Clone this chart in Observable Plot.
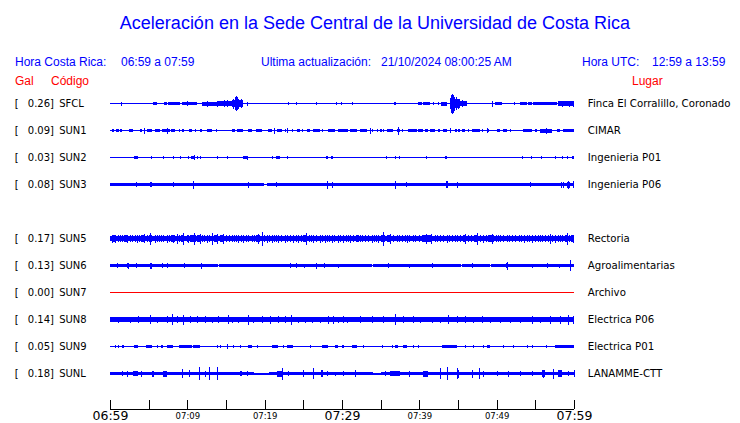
<!DOCTYPE html>
<html><head><meta charset="utf-8">
<script src="https://cdn.jsdelivr.net/npm/d3@7"></script>
<script src="https://cdn.jsdelivr.net/npm/@observablehq/plot@0.6"></script>
<style>
body{margin:0;background:#fff;}
#wrap{position:relative;width:740px;height:423px;overflow:hidden;background:#fff;}
#head{position:relative;width:740px;height:90px;font-family:"Liberation Sans",Arial,sans-serif;}
#head span{position:absolute;white-space:pre;line-height:1;}
#chart svg{display:block;}
</style></head><body>
<div id="wrap">
<div id="head">
  <span style="left:5px;width:740px;text-align:center;top:14.3px;font-size:18px;color:#0000ff">Aceleración en la Sede Central de la Universidad de Costa Rica</span>
  <span style="left:15px;top:55.8px;font-size:12px;color:#0000ff">Hora Costa Rica:</span>
  <span style="left:121px;top:55.8px;font-size:12px;color:#0000ff">06:59 a 07:59</span>
  <span style="left:261px;top:55.8px;font-size:12px;color:#0000ff">Ultima actualización:</span>
  <span style="left:381px;top:55.8px;font-size:12px;color:#0000ff">21/10/2024 08:00:25 AM</span>
  <span style="left:582px;top:55.8px;font-size:12px;color:#0000ff">Hora UTC:</span>
  <span style="left:652px;top:55.8px;font-size:12px;color:#0000ff">12:59 a 13:59</span>
  <span style="left:15px;top:74.8px;font-size:12px;color:#ff0000">Gal</span>
  <span style="left:51px;top:74.8px;font-size:12px;color:#ff0000">Código</span>
  <span style="left:632px;top:74.8px;font-size:12px;color:#ff0000">Lugar</span>
</div>
<div id="chart"></div>
</div>
<script>
// ---- station metadata ----
const codes  = ["SFCL","SUN1","SUN2","SUN3","SUN5","SUN6","SUN7","SUN8","SUN9","SUNL"];
const gal    = [0.26, 0.09, 0.03, 0.08, 0.17, 0.13, 0.00, 0.14, 0.05, 0.18];
const places = ["Finca El Corralillo, Coronado","CIMAR","Ingenieria P01","Ingenieria P06","Rectoria","Agroalimentarias","Archivo","Electrica P06","Electrica P01","LANAMME-CTT"];
const slots  = [0,1,2,3,5,6,7,8,9,10];

// ---- time axis (minutes after 06:59) ----
const tickMinutes = [0,5,10,15,20,25,30,35,40,45,50,55,60];
const labelMinutes = [0,10,20,30,40,50,60];
const labelTexts = ["06:59","07:09","07:19","07:29","07:39","07:49","07:59"];
const labelMajor = [true,false,false,true,false,false,true];

// ---- waveform envelopes: [t0, t1, halfAmplitude] and spikes [t, halfAmplitude] ----
const SFCL_base = [[0,60,0.6]];
const SFCL_blobs = [[5.60,6.04,1.6],[7.02,7.33,1.6],[7.46,9.05,1.7],[9.27,9.92,1.6],[9.92,11.21,1.7],[11.86,14.00,2.0],[14.00,15.74,2.6],[15.74,16.20,3.8],[16.20,16.70,5.0],[16.70,17.24,3.2],[36.76,36.94,1.5],[39.86,40.30,1.6],[40.51,41.38,1.6],[42.80,43.54,2.0],[43.96,44.60,5.5],[44.60,45.30,4.2],[45.30,46.12,2.8],[49.78,50.65,1.6],[53.01,53.88,1.6],[54.05,54.53,1.6],[54.66,57.76,1.8],[57.97,60.00,2.3]];
const SFCL_spikes = [[1.38,2],[10.0,2.2],[12.6,3],[13.9,3],[14.7,3.5],[15.1,3.2],[15.9,5],[16.12,6.5],[16.29,7.5],[16.45,6.5],[16.9,4.5],[17.68,2],[23.05,1.8],[24.05,1.5],[26.64,1.8],[29.22,1.8],[29.87,1.8],[31.33,1.8],[41.80,1.5],[42.45,1.5],[44.1,9],[44.22,10],[44.35,9],[44.5,7],[44.7,6.5],[45.0,5],[45.5,3.5],[49.43,3],[52.24,1.5],[58.5,3],[59.3,3],[59.9,3]];

const SUN1_base = [[0,60,0.6]];
const SUN1_blobs = [[0.22,0.56,1.7],[0.73,1.16,1.7],[1.29,1.51,1.7],[2.46,3.02,1.7],[3.88,4.09,1.7],[4.74,5.39,1.7],[5.82,6.47,1.7],[6.77,7.76,1.9],[7.84,8.40,1.7],[9.27,9.61,1.7],[10.26,10.65,1.7],[11.64,11.94,1.7],[12.50,13.15,1.7],[15.73,16.16,1.7],[16.38,17.24,1.7],[17.80,18.32,1.7],[18.83,19.61,1.7],[20.47,20.90,1.7],[21.55,22.20,1.7],[24.14,24.57,1.7],[24.78,25.00,1.7],[25.43,25.86,1.7],[26.29,27.15,1.7],[28.23,29.09,1.7],[29.52,30.82,1.7],[31.03,31.90,1.7],[32.33,33.19,1.7],[33.83,34.05,1.7],[34.91,35.13,1.7],[35.77,36.64,1.7],[37.07,37.50,1.9],[38.58,39.65,1.7],[39.87,40.52,1.7],[40.73,41.16,1.7],[41.38,42.02,1.7],[42.45,42.67,1.7],[43.10,43.53,1.7],[44.61,44.83,1.7],[45.04,45.26,1.7],[45.47,45.90,1.7],[46.76,47.84,1.7],[48.06,48.27,1.7],[50.00,50.43,1.7],[50.86,51.29,1.7],[53.45,54.52,1.7],[54.95,55.17,1.7],[55.60,57.11,2.0],[57.76,58.19,1.7],[58.62,60.00,1.7]];
const SUN1_spikes = [[4.35,3],[7.33,3],[8.92,1.8],[10.99,1.8],[13.71,1.8],[21.25,3],[22.63,1.8],[22.84,2.5],[23.49,1.8],[27.37,1.8],[33.62,3],[34.48,1.8],[35.34,1.8],[37.28,4],[37.71,1.8],[43.96,2.5],[46.33,1.8],[48.70,2.5],[48.92,1.8],[51.72,1.8],[56.38,3]];

const SUN2_base = [[0,60,0.5]];
const SUN2_blobs = [[3.15,3.66,1.7],[10.47,10.99,1.7],[17.24,17.89,1.5],[21.42,21.98,1.7],[27.90,28.20,1.7],[28.55,28.88,1.7],[43.32,43.53,1.7],[58.40,58.62,1.7],[59.70,60.00,1.7]];
const SUN2_spikes = [[5.30,1.7],[6.90,1.5],[8.10,1.7],[9.05,1.5],[10.13,1.7],[10.90,2.3],[11.21,1.5],[11.64,1.5],[13.88,1.5],[15.17,1.2],[17.67,2],[20.90,1.2],[22.93,1.5],[35.69,1.2],[36.85,1.7],[37.41,1.5],[40.86,1.2],[53.23,1.2],[54.44,1.7],[55.73,1.5],[57.54,1.2],[59.05,1.7]];

const SUN3_base = [[0,19.9,1.8],[19.9,20.3,0.8],[20.3,60,1.8]];
const SUN3_blobs = [[5.17,5.47,2.8],[43.44,43.66,3.2],[59.05,59.48,3]];
const SUN3_spikes = [[3.36,2.5],[8.10,2.5],[10.69,4],[17.80,3],[21.46,2.5],[28.10,4],[28.66,3],[36.85,4],[38.27,2.5],[43.50,3.5],[44.91,3],[54.31,2.5],[58.31,3],[58.53,3],[59.2,4],[59.91,3.5]];

const SUN5_base = [[0,60,2.7]];
const SUN5_blobs = [[0.5,0.8,3.3],[2.0,2.3,3.3],[4.2,4.5,3.4],[5.0,5.4,3.6],[8.0,8.4,3.4],[9.2,9.6,3.6],[10.5,11.1,3.8],[11.4,11.7,3.4],[13.6,13.9,3.4],[14.4,14.7,3.4],[18.9,19.4,3.6],[25.0,25.4,3.8],[31.8,32.2,3.3],[35.1,35.5,3.6],[36.0,36.3,3.4],[40.3,41.6,3.6],[45.6,46.0,3.4],[47.1,47.5,3.8],[49.0,49.6,3.4],[58.8,59.2,3.4],[59.6,60,3.4]];
const SUN5_spikes = [[0.22,4],[0.69,4],[1.51,3.5],[2.24,4],[3.45,4],[4.40,4.5],[5.17,6],[5.82,4],[6.59,3.5],[7.33,4],[8.19,4],[8.66,5],[9.48,6],[10.13,4],[10.82,6],[11.64,5],[12.50,4],[13.15,6],[13.79,5],[14.65,5],[15.73,3.5],[16.59,4],[17.24,4],[18.32,3.5],[19.18,5],[19.61,7],[20.26,4],[20.90,4],[21.77,4],[22.63,4],[23.71,4],[24.35,4],[25.30,6],[26.29,4],[27.15,4],[27.80,4],[28.66,4],[29.52,4],[30.17,4],[31.03,4],[32.33,3.5],[33.83,4],[34.70,4],[35.34,7],[36.21,5],[37.07,3.5],[38.36,4],[39.22,3.5],[40.8,5],[41.5,5],[42.67,3.5],[43.53,4],[44.61,3.5],[45.90,5],[47.41,6],[48.27,4],[49.44,5],[50.43,3.5],[51.29,3.5],[53.53,4],[54.52,4],[55.60,3.5],[56.89,5],[57.54,4],[59.05,6],[59.91,4]];
const SUN5_ripple = [0.4,1.0,1.3,1.8,2.6,2.9,3.2,3.7,4.0,4.8,6.1,6.3,6.9,7.6,7.9,8.9,9.9,10.4,11.3,11.9,12.2,12.8,13.4,14.2,15.0,15.4,16.0,16.3,17.0,17.6,17.9,18.6,19.9,20.5,21.2,21.5,22.1,22.9,23.3,24.0,24.7,25.7,26.0,26.6,27.4,28.0,28.3,29.0,29.8,30.5,30.8,31.4,32.6,33.0,33.4,34.1,34.4,35.8,36.6,37.4,37.8,38.1,38.7,39.5,39.9,40.6,41.2,42.0,42.3,43.0,43.8,44.2,44.9,45.3,46.3,46.7,47.8,48.6,48.9,49.9,50.2,50.8,51.6,52.0,52.4,52.9,53.2,53.9,54.2,54.9,55.3,55.9,56.3,56.6,57.2,57.9,58.2,58.5,59.4];

const SUN6_base = [[0,13.95,1.7],[13.95,14.1,0.6],[14.1,33.85,1.7],[33.85,34.0,0.6],[34.0,45.4,1.7],[45.4,45.55,0.6],[45.55,49.15,1.7],[49.15,49.3,0.6],[49.3,60,1.7]];
const SUN6_blobs = [[3.32,3.53,2.8],[5.17,5.39,3],[7.33,7.54,2.8],[11.72,11.90,3],[51.15,51.45,2.6]];
const SUN6_spikes = [[0.95,2.5],[2.16,2.5],[2.37,3],[6.77,2.5],[9.61,2.5],[23.27,2.5],[24.0,2.5],[25.08,2],[26.59,3],[27.71,2.5],[29.52,2],[35.99,2.5],[38.70,2],[41.59,2.5],[46.85,2.5],[51.3,4],[54.52,2],[56.46,2.5],[58.10,2],[59.48,5.5]];

const SUN7_base = [[0,60,0.5]];
const SUN7_blobs = [];
const SUN7_spikes = [];

const SUN8_base = [[0,60,2.1]];
const SUN8_blobs = [[0,2.0,2.6],[4.9,5.6,2.9],[9.2,9.7,2.8],[56.5,60,2.6]];
const SUN8_spikes = [[1.08,3],[2.59,3],[3.66,3.5],[5.17,4.5],[6.03,3],[7.33,3.5],[8.06,5.5],[8.62,3.5],[9.48,5],[10.34,3.5],[11.21,3.5],[12.28,3.5],[13.15,3],[14.01,3.5],[15.21,4.5],[15.73,3],[16.59,3],[17.80,5],[18.53,3],[19.61,3.5],[20.69,4],[21.77,3.5],[22.63,3.5],[23.40,5],[24.35,3],[25.21,3],[26.16,3],[27.15,3],[28.14,4],[28.88,4],[29.52,3],[30.17,3.5],[30.60,3],[32.33,3.5],[33.83,3.5],[35.34,3.5],[36.89,5.5],[37.93,3.5],[39.22,3.5],[40.08,3],[41.59,3],[42.67,3],[43.75,4.5],[44.83,3.5],[45.90,3.5],[46.98,3],[48.06,3.5],[49.14,3],[50.43,3],[51.72,3],[53.01,3],[54.52,4],[55.60,3],[56.89,4],[58.19,4],[59.26,5],[59.91,4]];
const SUN8_ripple = [0.3,0.6,0.9,1.4,1.7,2.0,2.3,3.0,3.3,4.0,4.4,4.7,5.5,5.9,6.4,6.8,7.7,8.3,9.0,9.9,10.7,11.0,11.6,12.0,12.6,13.5,13.8,14.4,14.8,15.5,16.2,16.9,17.3,18.1,18.9,19.3,20.0,20.4,21.1,21.5,22.1,22.9,23.8,24.7,25.6,26.5,27.5,27.9,28.5,29.2,29.9,31.0,31.6,32.0,32.8,33.3,34.2,34.8,35.8,36.3,37.2,37.6,38.5,38.9,39.6,40.5,41.0,41.9,42.3,43.2,44.2,44.5,45.3,46.3,46.6,47.4,47.8,48.6,49.5,50.0,50.9,51.3,52.0,52.5,53.4,53.8,54.2,55.1,55.9,56.3,57.2,57.7,58.5,58.9,59.6];

const SUN9_base = [[0,60,0.5]];
const SUN9_blobs = [[1.59,1.77,1.7],[3.15,3.66,1.7],[4.61,5.39,1.7],[6.59,6.90,1.7],[7.33,8.19,1.7],[8.92,10.56,1.7],[10.78,11.64,1.7],[17.80,18.32,1.7],[20.90,21.77,1.7],[22.84,23.71,1.7],[27.37,28.23,1.7],[29.09,29.52,1.7],[31.25,31.90,1.7],[36.85,37.28,1.7],[37.93,38.36,1.7],[42.89,44.83,1.7],[48.70,49.14,1.7],[53.88,54.09,1.7],[57.54,60.00,1.7]];
const SUN9_spikes = [[0.65,1.5],[0.99,1.5],[6.03,1.5],[13.88,1.7],[14.22,1.5],[15.09,2.5],[15.95,1.5],[16.81,1.5],[18.96,1.5],[22.33,1.5],[25.86,1.5],[29.96,1.5],[30.17,1.5],[32.76,1.5],[35.13,1.5],[36.42,1.5],[39.22,1.5],[39.87,1.5],[45.90,1.5],[46.98,1.5],[48.27,1.5],[50.86,1.5],[52.15,1.5],[54.52,1.5],[56.38,1.5]];

const SUNL_base = [[0,18.6,1.9],[18.6,20.6,1.0],[20.6,34.0,1.9],[34.0,35.1,1.0],[35.1,60,1.9]];
const SUNL_blobs = [[3.02,3.66,2.6],[5.39,5.73,3],[6.90,7.33,3],[10.21,10.34,3.5],[16.81,17.02,2.6],[21.55,22.20,3],[27.24,27.58,3.5],[36.2,37.5,2.6],[40.52,41.16,3],[44.83,45.17,4],[55.82,56.25,3.5],[57.97,58.40,3.5]];
const SUNL_spikes = [[1.59,2.5],[2.16,3],[4.01,3],[9.35,4.5],[11.55,6.7],[12.28,3],[12.84,6.5],[13.88,6.5],[17.67,2.5],[22.24,6],[23.06,2.5],[25.0,3.5],[26.29,5.5],[28.01,2.5],[29.09,2],[30.17,2.5],[31.68,3.5],[35.5,2.5],[38.70,3],[42.67,5.5],[43.53,6.5],[44.9,5.5],[46.76,4],[47.76,5.5],[48.27,3],[50.0,2.5],[51.5,3],[53.01,2.5],[54.52,2.5],[56.0,4],[57.24,5],[59.26,2.5],[60,3.5]];

// small ripple spikes on the busy traces: times, with a common half-amplitude per trace
const rippleTimes = [[],[],[],[],SUN5_ripple,[],[],SUN8_ripple,[],[]];
const rippleAmp   = [0,0,0,0,3.4,0,0,2.9,0,0];

const baseSets  = [SFCL_base,SUN1_base,SUN2_base,SUN3_base,SUN5_base,SUN6_base,SUN7_base,SUN8_base,SUN9_base,SUNL_base];
const blobSets  = [SFCL_blobs,SUN1_blobs,SUN2_blobs,SUN3_blobs,SUN5_blobs,SUN6_blobs,SUN7_blobs,SUN8_blobs,SUN9_blobs,SUNL_blobs];
const spikeSets = [SFCL_spikes,SUN1_spikes,SUN2_spikes,SUN3_spikes,SUN5_spikes,SUN6_spikes,SUN7_spikes,SUN8_spikes,SUN9_spikes,SUNL_spikes];

// ---- build tables ----
const COUNTS_PER_ROW = 27;
const BLUE = "#0000ff", RED = "#ff0000";
const stations = codes.map((c,i)=>({code:c, gal:gal[i], place:places[i], row:slots[i], color: gal[i] === 0 ? RED : BLUE}));
const segs = [];
const spikes = [];
stations.forEach((s,i)=>{
  baseSets[i].concat(blobSets[i]).forEach(([t0,t1,a])=>segs.push({t0,t1,a,row:s.row,color:s.color}));
  spikeSets[i].forEach(([t,a])=>spikes.push({t,a,row:s.row,color:s.color}));
  rippleTimes[i].forEach(t=>spikes.push({t,a:rippleAmp[i],row:s.row,color:s.color}));
});
const ticks = tickMinutes.map(m=>({m}));
const labels = labelMinutes.map((m,i)=>({m, text:labelTexts[i], major:labelMajor[i]}));
const AXIS_ROW = 11.333, TICK_TOP = 10.975;

const chart = Plot.plot({
  width: 740, height: 333,
  margin: 0,
  x: {domain:[0,60], range:[110,574], axis:null},
  y: {domain:[-0.5, 11.8333], range:[0,333], axis:null},
  style: {background:"#fff"},
  marks: [
    Plot.rect(segs, {x1:"t0", x2:"t1", y1:d=>d.row - d.a/COUNTS_PER_ROW, y2:d=>d.row + d.a/COUNTS_PER_ROW, fill:d=>d.color, shapeRendering:"crispEdges"}),
    Plot.ruleX(spikes, {x:"t", y1:d=>d.row - d.a/COUNTS_PER_ROW, y2:d=>d.row + d.a/COUNTS_PER_ROW, stroke:d=>d.color, strokeWidth:1, shapeRendering:"crispEdges"}),
    Plot.text(stations, {x:0, y:"row", text:()=>"[", textAnchor:"start", dx:-95.7, fontSize:10, fontFamily:"DejaVu Sans", fill:"#000"}),
    Plot.text(stations, {x:0, y:"row", text:d=>`${d.gal.toFixed(2)}]`, textAnchor:"start", dx:-82.7, fontSize:10, fontFamily:"DejaVu Sans", fill:"#000"}),
    Plot.text(stations, {x:0, y:"row", text:"code", textAnchor:"start", dx:-51.3, fontSize:10, fontFamily:"DejaVu Sans", fill:"#000"}),
    Plot.text(stations, {x:60, y:"row", text:"place", textAnchor:"start", dx:13.3, fontSize:10.2, fontFamily:"DejaVu Sans", fill:"#000"}),
    Plot.ruleY([AXIS_ROW], {x1:0, x2:60, stroke:"#000", strokeWidth:1, shapeRendering:"crispEdges"}),
    Plot.ruleX(ticks, {x:"m", y1:TICK_TOP, y2:AXIS_ROW, stroke:"#000", strokeWidth:1, shapeRendering:"crispEdges"}),
    Plot.text(labels.filter(d=>d.major), {x:"m", y:11.722, text:"text", lineAnchor:"bottom", fontSize:12.5, fontFamily:"DejaVu Sans", fill:"#000"}),
    Plot.text(labels.filter(d=>!d.major), {x:"m", y:11.667, text:"text", lineAnchor:"bottom", fontSize:8.5, fontFamily:"DejaVu Sans", fill:"#000"})
  ]
});
document.getElementById("chart").appendChild(chart);
</script>
</body></html>
